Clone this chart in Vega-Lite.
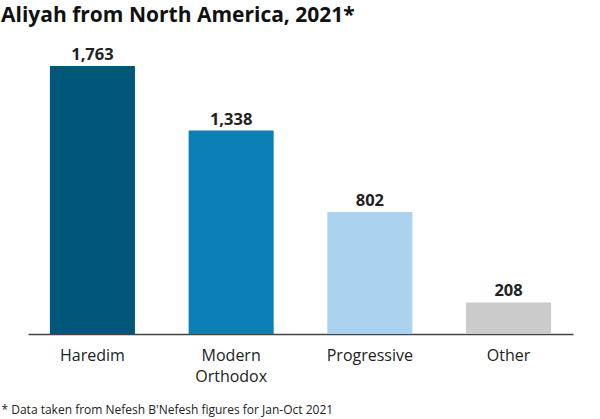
{
  "$schema": "https://vega.github.io/schema/vega-lite/v6.json",
  "autosize": {"type": "none"},
  "padding": {"left": 28, "top": 30, "right": 27, "bottom": 85},
  "width": 545,
  "height": 304,
  "background": "white",
  "title": {
    "text": "Aliyah from North America, 2021*",
    "font": "Open Sans",
    "fontSize": 21,
    "fontWeight": "bold",
    "color": "#111111",
    "anchor": "start",
    "frame": "group",
    "dx": -27,
    "offset": 4
  },
  "data": {
    "values": [
      {"group": "Haredim", "count": 1763},
      {"group": "Modern Orthodox", "count": 1338},
      {"group": "Progressive", "count": 802},
      {"group": "Other", "count": 208}
    ]
  },
  "config": {
    "view": {"stroke": null},
    "font": "Open Sans"
  },
  "encoding": {
    "x": {
      "field": "group",
      "type": "nominal",
      "sort": null,
      "scale": {"paddingInner": 0.387, "paddingOuter": 0.158},
      "axis": {
        "title": "* Data taken from Nefesh B'Nefesh figures for Jan-Oct 2021",
        "titleFont": "Open Sans",
        "titleFontSize": 12,
        "titleFontWeight": "normal",
        "titleColor": "#222222",
        "titleAnchor": "start",
        "titleAlign": "left",
        "titleBaseline": "alphabetic",
        "titleX": -27,
        "titleY": 79,
        "labelAngle": 0,
        "labelFont": "Open Sans",
        "labelFontSize": 16,
        "labelColor": "#222222",
        "labelPadding": 13,
        "labelBaseline": "top",
        "labelLineHeight": 21,
        "labelExpr": "datum.label == 'Modern Orthodox' ? ['Modern', 'Orthodox'] : datum.label",
        "ticks": false,
        "domainColor": "#444444",
        "domainWidth": 1.5
      }
    },
    "y": {
      "field": "count",
      "type": "quantitative",
      "scale": {"domain": [0, 2000]},
      "axis": null
    }
  },
  "layer": [
    {
      "mark": {"type": "bar"},
      "encoding": {
        "color": {
          "field": "group",
          "type": "nominal",
          "scale": {
            "domain": ["Haredim", "Modern Orthodox", "Progressive", "Other"],
            "range": ["#00577a", "#0c7fb6", "#abd2ee", "#cbcbcb"]
          },
          "legend": null
        }
      }
    },
    {
      "mark": {
        "type": "text",
        "baseline": "alphabetic",
        "dy": -6,
        "font": "Open Sans",
        "fontSize": 16.5,
        "fontWeight": "bold",
        "color": "#222222"
      },
      "encoding": {
        "text": {"field": "count", "type": "quantitative", "format": ","}
      }
    }
  ]
}
